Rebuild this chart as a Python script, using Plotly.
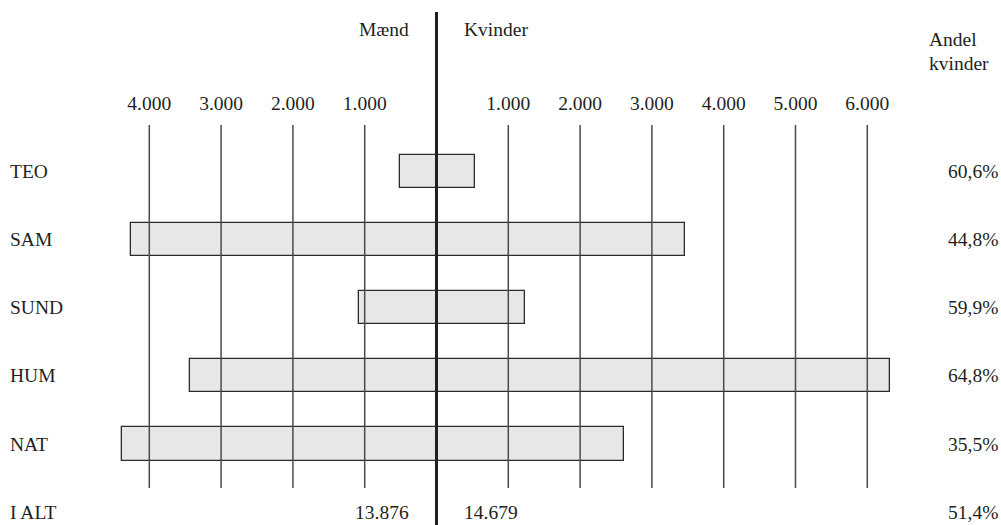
import plotly.graph_objects as go

categories = ["TEO", "SAM", "SUND", "HUM", "NAT"]
maend = [510, 4260, 1080, 3440, 4385]
kvinder = [540, 3465, 1235, 6310, 2605]
andel_kvinder = ["60,6%", "44,8%", "59,9%", "64,8%", "35,5%"]
total_label = "I ALT"
total_maend = "13.876"
total_kvinder = "14.679"
total_andel = "51,4%"
tick_values = [-4000, -3000, -2000, -1000, 1000, 2000, 3000, 4000, 5000, 6000]
tick_labels = ["4.000", "3.000", "2.000", "1.000", "1.000", "2.000", "3.000", "4.000", "5.000", "6.000"]

FONT = "Liberation Serif"
TXT = "#231f20"
FS = 19.5

W, H = 1001, 525
ML, MR, MT, MB = 100, 91, 125, 37
px_per_unit = 71.8 / 1000.0
center_px = 436.5
x_lo = (ML - center_px) / px_per_unit
x_hi = (W - MR - center_px) / px_per_unit

row_px = 68.2
first_row_px = 171.2
plot_h = H - MT - MB
plot_w = W - ML - MR
y_top = (MT - first_row_px) / row_px
y_bot = (H - MB - first_row_px) / row_px

ypos = list(range(len(categories)))

fig = go.Figure()
fig.add_trace(go.Bar(
    y=ypos,
    x=[m + k for m, k in zip(maend, kvinder)],
    base=[-m for m in maend],
    orientation="h",
    width=0.485,
    marker=dict(color="#e6e7e9", line=dict(color="#2b2b2b", width=1.3)),
    hoverinfo="skip",
    showlegend=False,
))

def yp(px):
    return (H - MB - px) / plot_h

def xp(px):
    return (px - ML) / plot_w

shapes = []
for tv in tick_values:
    shapes.append(dict(type="line", xref="x", yref="paper", x0=tv, x1=tv, y0=0, y1=1,
                       line=dict(color="#4a4a4a", width=1.5), layer="above"))
# centre axis line
shapes.append(dict(type="line", xref="x", yref="paper", x0=0, x1=0,
                   y0=yp(12), y1=yp(H + 2),
                   line=dict(color="#231f20", width=3), layer="above"))

annotations = []
for i, (c, a) in enumerate(zip(categories, andel_kvinder)):
    ypx = first_row_px + i * row_px
    annotations.append(dict(x=xp(8), xref="paper", y=yp(ypx), yref="paper",
                            text=c, showarrow=False, xanchor="left", yanchor="middle"))
    annotations.append(dict(x=xp(1000), xref="paper", y=yp(ypx), yref="paper",
                            text=a, showarrow=False, xanchor="right", yanchor="middle"))

tot_px = first_row_px + len(categories) * row_px
annotations += [
    dict(x=xp(8), xref="paper", y=yp(tot_px), yref="paper", text=total_label,
         showarrow=False, xanchor="left", yanchor="middle"),
    dict(x=xp(1000), xref="paper", y=yp(tot_px), yref="paper", text=total_andel,
         showarrow=False, xanchor="right", yanchor="middle"),
    dict(x=-360, xref="x", y=yp(tot_px), yref="paper", text=total_maend,
         showarrow=False, xanchor="right", yanchor="middle"),
    dict(x=360, xref="x", y=yp(tot_px), yref="paper", text=total_kvinder,
         showarrow=False, xanchor="left", yanchor="middle"),
    dict(x=-360, xref="x", y=yp(30), yref="paper", text="Mænd",
         showarrow=False, xanchor="right", yanchor="middle"),
    dict(x=360, xref="x", y=yp(30), yref="paper", text="Kvinder",
         showarrow=False, xanchor="left", yanchor="middle"),
    dict(x=xp(927), xref="paper", y=yp(40), yref="paper",
         text="Andel", showarrow=False, xanchor="left", yanchor="middle"),
    dict(x=xp(927), xref="paper", y=yp(63), yref="paper",
         text="kvinder", showarrow=False, xanchor="left", yanchor="middle"),
]

fig.update_layout(
    width=W, height=H,
    margin=dict(l=ML, r=MR, t=MT, b=MB),
    paper_bgcolor="white", plot_bgcolor="white",
    font=dict(family=FONT, size=FS, color=TXT),
    xaxis=dict(range=[x_lo, x_hi], side="top", tickvals=tick_values, ticktext=tick_labels,
               showgrid=False, zeroline=False, showline=False, ticks="",
               ticklabelstandoff=10, tickfont=dict(family=FONT, size=FS, color=TXT)),
    yaxis=dict(range=[y_bot, y_top], showgrid=False, zeroline=False, showline=False,
               showticklabels=False, ticks=""),
    shapes=shapes,
    annotations=annotations,
    bargap=0,
)

fig.write_html(
    "out.html",
    config={"displayModeBar": False},
    post_script="document.body.style.margin='0';document.body.style.overflow='hidden';",
)
